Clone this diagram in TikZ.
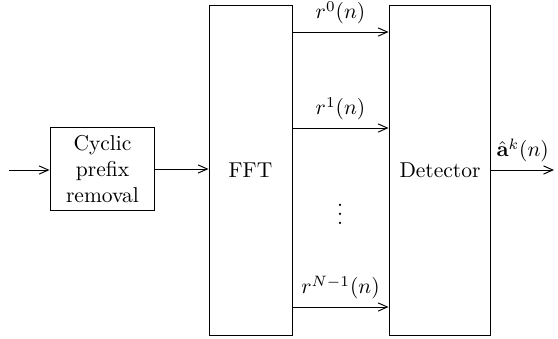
\documentclass[tikz,border=0pt]{standalone}
\usepackage{amsmath,bm}
\usetikzlibrary{arrows.meta}
\begin{document}
\begin{tikzpicture}[x=0.4651pt,y=-0.4651pt,
  blk/.style={draw,line width=0.45pt,inner sep=0pt,align=center},
  conn/.style={-{Straight Barb[length=4.3pt,width=3.8pt]},line width=0.45pt}]
\useasboundingbox (0,0) rectangle (558,338);
\node[blk,minimum width=48.8pt,minimum height=39pt] (cp) at (102.5,169) {Cyclic\\prefix\\removal};
\node[blk,minimum width=38.6pt,minimum height=153.5pt] (fft) at (250.5,170) {FFT};
\node[blk,minimum width=47.4pt,minimum height=153.5pt] (det) at (440,170) {Detector};
\coordinate (in) at (9,170);
\coordinate (out) at (554,170);
\coordinate (y0) at (0,32);
\coordinate (y1) at (0,128);
\coordinate (y2) at (0,307);
\draw[conn] (in) -- (in -| cp.west);
\draw[conn] (cp.east) -- (cp.east -| fft.west);
\draw[conn] (fft.east |- y0) -- node[above] {$r^0(n)$} (det.west |- y0);
\draw[conn] (fft.east |- y1) -- node[above] {$r^1(n)$} (det.west |- y1);
\draw[conn] (fft.east |- y2) -- node[above] {$r^{N-1}(n)$} (det.west |- y2);
\node (dots) at (340,208) {$\vdots$};
\draw[conn] (det.east |- out) -- node[above] {$\hat{\mathbf{a}}^k(n)$} (out);
\end{tikzpicture}
\end{document}
